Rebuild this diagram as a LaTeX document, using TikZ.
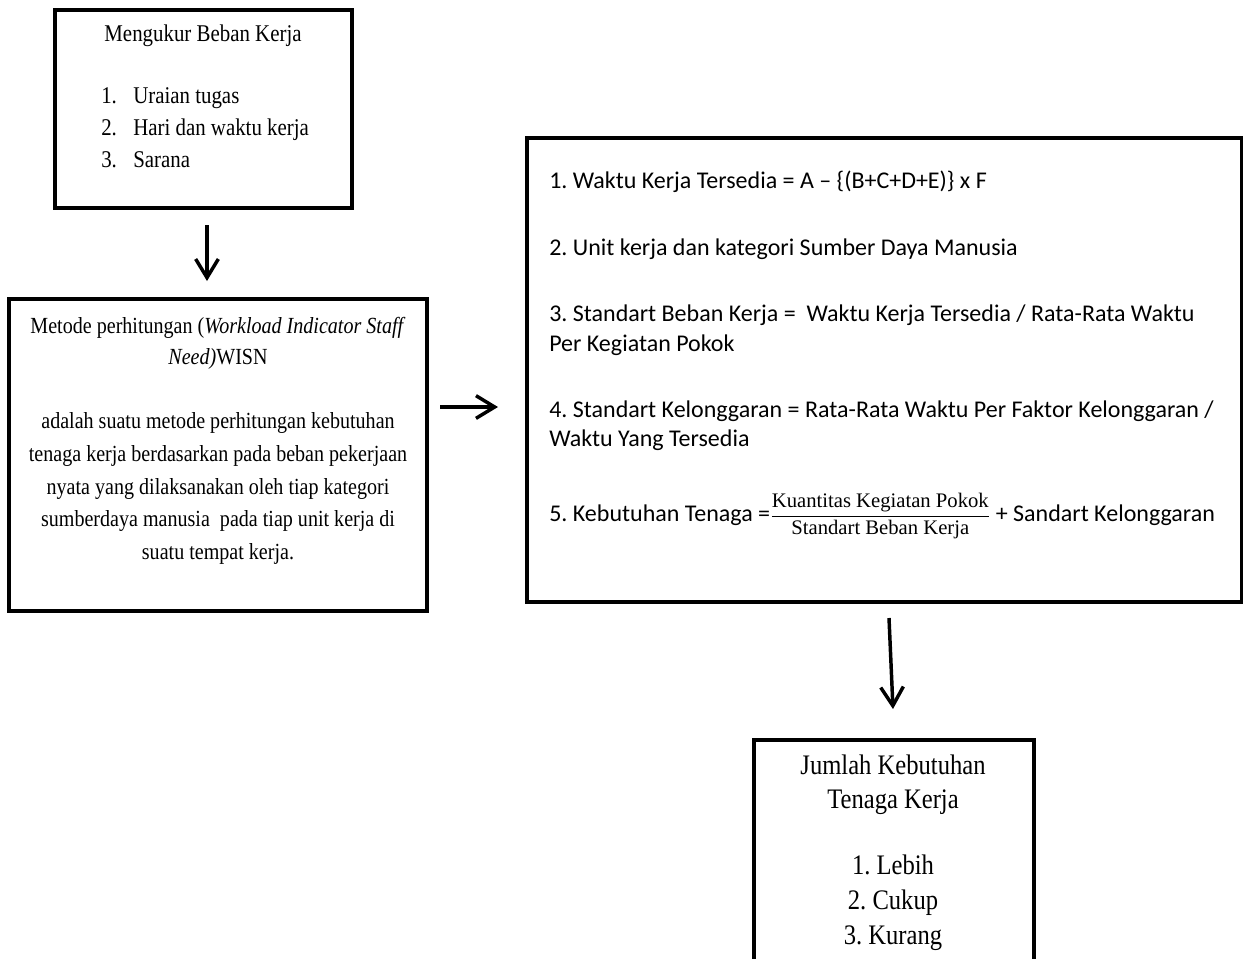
\documentclass[tikz,border=0pt]{standalone}
\usepackage{amsmath}
\usepackage{fontspec}
\setmainfont{Liberation Serif}
\newfontfamily\calfont{Carlito}
\newfontfamily\condserif[FakeStretch=0.87]{Liberation Serif}
\newfontfamily\fracfont{Liberation Serif}
\usetikzlibrary{arrows.meta}
\frenchspacing
\begin{document}
\frenchspacing
\begin{tikzpicture}[x=0.75pt,y=-0.75pt,
  box/.style={draw,line width=3pt,inner sep=0pt},
  conn/.style={line width=2.6pt,-{Straight Barb[length=14pt,width=17pt,line width=2.6pt]}},
  sone/.style={inner sep=0pt,font=\condserif\fontsize{18}{22}\selectfont},
  stwo/.style={inner sep=0pt,font=\condserif\fontsize{17.3}{22}\selectfont},
  sfour/.style={inner sep=0pt,font=\condserif\fontsize{21.2}{24}\selectfont},
  cal/.style={inner sep=0pt,anchor=base west,font=\calfont\fontsize{18}{22}\selectfont\frenchspacing}]
\useasboundingbox (0,0) rectangle (1243,958);
\clip (0,0) rectangle (1243,958);
% boxes
\node[box,minimum width=222.75pt,minimum height=148.5pt] (b1) at (203.5,109) {};
\node[box,minimum width=313.5pt,minimum height=234pt] (b2) at (218,455) {};
\node[box,minimum width=536.25pt,minimum height=348pt] (b3) at (884.5,370) {};
\node[box,minimum width=210pt,minimum height=187.5pt] (b4) at (894,865) {};
% box 1 text
\node[sone,anchor=base] (t1a) at (203,41) {Mengukur Beban Kerja};
\node[sone,anchor=base west] (n1) at (101,103) {1.};
\node[sone,anchor=base west] (n2) at (101,135) {2.};
\node[sone,anchor=base west] (n3) at (101,167) {3.};
\node[sone,anchor=base west] (i1) at (133,103) {Uraian tugas};
\node[sone,anchor=base west] (i2) at (133,135) {Hari dan waktu kerja};
\node[sone,anchor=base west] (i3) at (133,167) {Sarana};
% box 2 text
\node[stwo,anchor=base] (t2a) at (218,333) {Metode perhitungan (\textit{Workload Indicator Staff}};
\node[stwo,anchor=base] (t2b) at (218,364) {\textit{Need)}WISN};
\node[stwo,anchor=base] (t2c) at (218,428) {adalah suatu metode perhitungan kebutuhan};
\node[stwo,anchor=base] (t2d) at (218,461) {tenaga kerja berdasarkan pada beban pekerjaan};
\node[stwo,anchor=base] (t2e) at (218,494) {nyata yang dilaksanakan oleh tiap kategori};
\node[stwo,anchor=base] (t2f) at (218,526) {sumberdaya manusia\ \ pada tiap unit kerja di};
\node[stwo,anchor=base] (t2g) at (218,559) {suatu tempat kerja.};
% box 3 text
\node[cal] (c1) at (549,188.5) {1. Waktu Kerja Tersedia = A \textendash{} \{(B+C+D+E)\} x F};
\node[cal] (c2) at (549,255.5) {2. Unit kerja dan kategori Sumber Daya Manusia};
\node[cal] (c3a) at (549,321.5) {3. Standart Beban Kerja =\ \ Waktu Kerja Tersedia / Rata-Rata Waktu};
\node[cal] (c3b) at (549,351.5) {Per Kegiatan Pokok};
\node[cal] (c4a) at (549,417.5) {4. Standart Kelonggaran = Rata-Rata Waktu Per Faktor Kelonggaran /};
\node[cal] (c4b) at (549,446.5) {Waktu Yang Tersedia};
\node[cal] (c5) at (549,521.5) {5. Kebutuhan Tenaga =\raisebox{1.5pt}{\fontsize{10}{12}\selectfont$\genfrac{}{}{0.9pt}{0}{\mbox{\fracfont\fontsize{15.5}{17}\selectfont Kuantitas Kegiatan Pokok}}{\mbox{\fracfont\fontsize{15.5}{17}\selectfont Standart Beban Kerja}}$}\fontsize{18}{22}\selectfont{} + Sandart Kelonggaran};
% box 4 text
\node[sfour,anchor=base] (t4a) at (893,774) {Jumlah Kebutuhan};
\node[sfour,anchor=base] (t4b) at (893,808) {Tenaga Kerja};
\node[sfour,anchor=base] (t4c) at (893,874) {1. Lebih};
\node[sfour,anchor=base] (t4d) at (893,909) {2. Cukup};
\node[sfour,anchor=base] (t4e) at (893,944) {3. Kurang};
% connectors
\coordinate (a1s) at (207,225);
\coordinate (a1e) at (207,281);
\coordinate (a2s) at (440,407);
\coordinate (a2e) at (498,407);
\coordinate (a3s) at (889,618);
\coordinate (a3e) at (893,709);
\draw[conn] (a1s) -- (a1e);
\draw[conn] (a2s) -- (a2e);
\draw[conn] (a3s) -- (a3e);
\end{tikzpicture}
\end{document}
